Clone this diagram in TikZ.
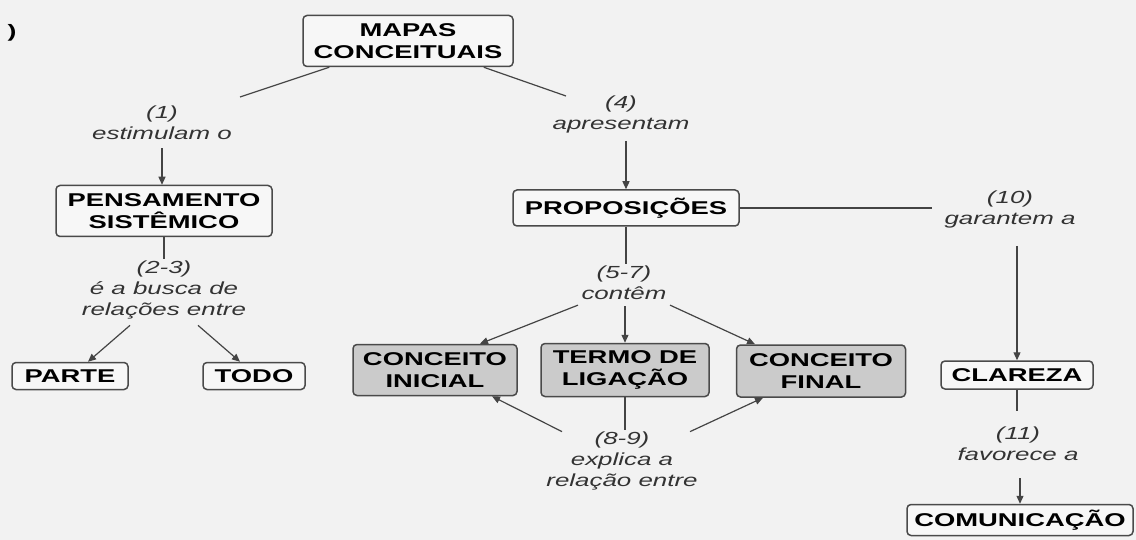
\documentclass[tikz,border=0pt]{standalone}
\usepackage{fontspec}
\usetikzlibrary{arrows.meta,calc}
\newfontfamily\wfont[FakeStretch=1.48]{Liberation Sans}
\definecolor{bgc}{HTML}{F2F2F2}
\definecolor{linec}{HTML}{444444}
\definecolor{boxline}{HTML}{4A4A4A}
\definecolor{grayfill}{HTML}{CBCBCB}
\definecolor{plainfill}{HTML}{F7F7F7}
\definecolor{labc}{HTML}{333333}
\tikzset{
  concept/.style={draw=boxline, line width=1.5pt, rounded corners=4pt, fill=plainfill,
    align=center, inner sep=1pt, text=black,
    font=\wfont\bfseries\fontsize{18.5}{21.8}\selectfont},
  graybox/.style={concept, fill=grayfill},
  linklabel/.style={align=center, inner sep=2pt, text=labc,
    font=\wfont\itshape\fontsize{17.5}{21}\selectfont},
  conn/.style={draw=linec, line width=1.2pt},
  arr/.style={conn, -{Triangle[length=8pt,width=7pt]}}
}
\begin{document}
\begin{tikzpicture}[x=1pt,y=-1pt]
\fill[bgc] (0,0) rectangle (1136,540);
\useasboundingbox (0,0) rectangle (1136,540);

% stray mark
\node[font=\wfont\bfseries\fontsize{18}{21.6}\selectfont, text=black] (stray) at (12,33) {)};

% concepts
\node[concept, minimum width=210pt, minimum height=51pt] (mapas) at (408,41) {MAPAS\\CONCEITUAIS};
\node[concept, minimum width=216pt, minimum height=51pt] (pens) at (164,211) {PENSAMENTO\\SISTÊMICO};
\node[concept, minimum width=116pt, minimum height=27pt] (parte) at (70,376) {PARTE};
\node[concept, minimum width=102pt, minimum height=27pt] (todo) at (254,376) {TODO};
\node[concept, minimum width=226pt, minimum height=36pt] (prop) at (626,208) {PROPOSIÇÕES};
\node[graybox, minimum width=164pt, minimum height=51pt] (ci) at (435,370) {CONCEITO\\INICIAL};
\node[graybox, minimum width=168pt, minimum height=53pt] (tl) at (625,370) {TERMO DE\\LIGAÇÃO};
\node[graybox, minimum width=169pt, minimum height=52pt] (cf) at (821,371) {CONCEITO\\FINAL};
\node[concept, minimum width=152pt, minimum height=28pt] (clar) at (1017,375) {CLAREZA};
\node[concept, minimum width=226pt, minimum height=31pt] (com) at (1020,520) {COMUNICAÇÃO};

% linking phrases
\node[linklabel] (l1) at (162,123) {(1)\\estimulam o};
\node[linklabel] (l4) at (621,114) {(4)\\apresentam};
\node[linklabel] (l23) at (164,290) {(2-3)\\é a busca de\\relações entre};
\node[linklabel] (l57) at (624,283) {(5-7)\\contêm};
\node[linklabel] (l89) at (622,461) {(8-9)\\explica a\\relação entre};
\node[linklabel] (l10) at (1010,209) {(10)\\garantem a};
\node[linklabel] (l11) at (1018,444) {(11)\\favorece a};

\coordinate (c1) at (240,97);
\coordinate (c4) at (566,96);

% connectors
\draw[conn] ($(mapas.south west)+(27,0)$) -- (c1);
\draw[conn] ($(mapas.south east)+(-30,0)$) -- (c4);
\draw[arr, shorten <=6pt] (l1.south) -- (l1.south |- pens.north);
\draw[conn] (pens.south) -- (pens.south |- l23.north);
\draw[arr] ($(l23.south)+(-34,4)$) -- ($(parte.north)+(18,0)$);
\draw[arr] ($(l23.south)+(34,4)$) -- ($(todo.north)+(-14,0)$);
\draw[arr, shorten <=6pt] (prop.north |- l4.south) -- (prop.north);
\draw[conn] (prop.south) -- (prop.south |- l57.north);
\draw[arr] ($(l57.south)+(-46,3)$) -- ($(ci.north)+(45,0)$);
\draw[arr, shorten <=4pt] (tl.north |- l57.south) -- (tl.north);
\draw[arr] ($(l57.south)+(46,3)$) -- ($(cf.north)+(-66,0)$);
\draw[conn] (tl.south) -- (tl.south |- l89.north);
\draw[arr] ($(l89.north)+(-60,2)$) -- ($(ci.south)+(57,0)$);
\draw[arr] ($(l89.north)+(68,2)$) -- ($(cf.south)+(-58,0)$);
\draw[conn, shorten >=10pt] (prop.east) -- (prop.east -| l10.west);
\draw[arr, shorten <=16pt] (clar.north |- l10.south) -- (clar.north);
\draw[conn, shorten >=14pt] (clar.south) -- (clar.south |- l11.north);
\draw[arr, shorten <=15pt] (com.north |- l11.south) -- (com.north);
\end{tikzpicture}
\end{document}
